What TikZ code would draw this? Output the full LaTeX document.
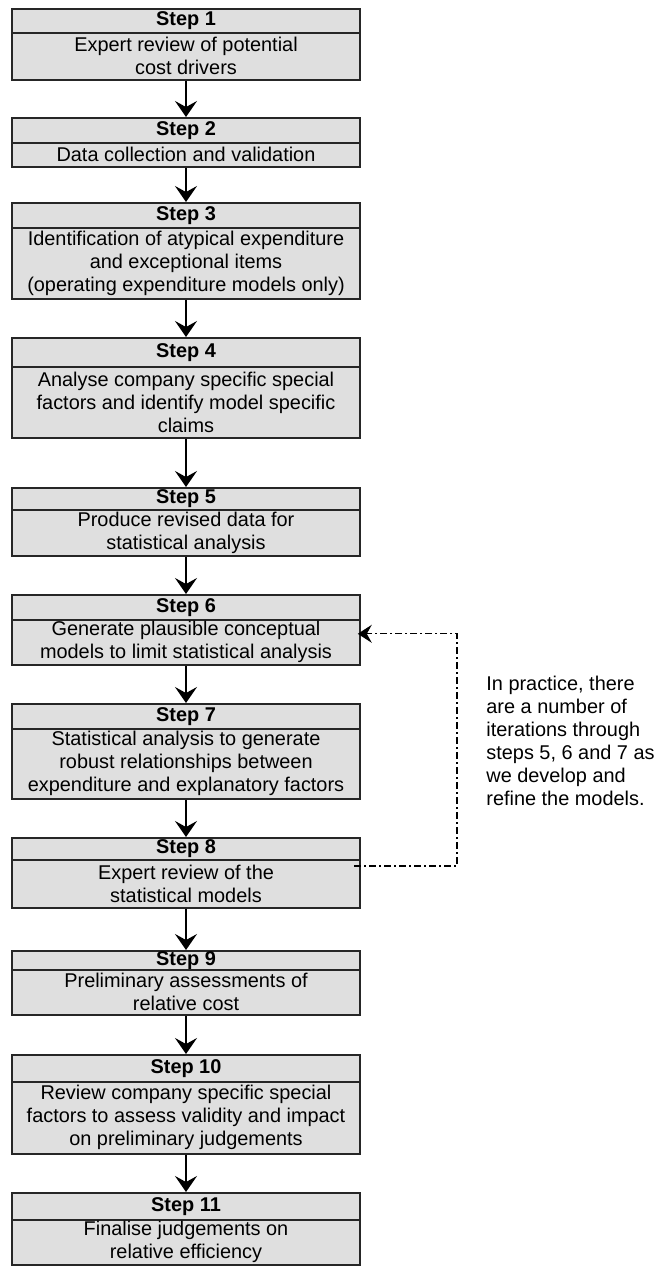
\documentclass[tikz,border=0pt]{standalone}
\usepackage{fontspec}
\setmainfont{Liberation Sans}
\usetikzlibrary{arrows.meta}
\definecolor{boxgray}{HTML}{DFDFDF}
\tikzset{
  box/.style={draw=black!85, fill=boxgray, line width=0.8pt, minimum width=174pt,
    inner sep=0pt, anchor=north, align=center,
    font=\fontsize{9.95}{11.5}\selectfont},
  hdr/.style={box, font=\fontsize{9.95}{11.5}\selectfont\bfseries},
  flow/.style={line width=0.75pt, -{Stealth[length=8pt,width=11pt,inset=3pt]}},
  iterloop/.style={line width=0.6pt, dash pattern=on 3.5pt off 1.5pt on 1pt off 1.5pt,
    -{Stealth[length=7pt,width=9pt,inset=2.5pt]}},
  note/.style={anchor=west, align=left, inner sep=0pt,
    font=\fontsize{9.95}{11.5}\selectfont}
}
\begin{document}
\begin{tikzpicture}[x=0.5pt,y=-0.5pt]
\useasboundingbox (0,0) rectangle (658,1266);
% Step 1
\node[hdr, minimum height=12pt] (h1) at (186,8) {Step 1};
\node[box, minimum height=23.5pt] (b1) at (186,32) {Expert review of potential\\cost drivers};
% Step 2
\node[hdr, minimum height=12.5pt] (h2) at (186,117) {Step 2};
\node[box, minimum height=12pt] (b2) at (186,142) {Data collection and validation};
% Step 3
\node[hdr, minimum height=12.5pt] (h3) at (186,202) {Step 3};
\node[box, minimum height=35.5pt] (b3) at (186,227) {Identification of atypical expenditure\\and exceptional items\\(operating expenditure models only)};
% Step 4
\node[hdr, minimum height=14.5pt] (h4) at (186,337) {Step 4};
\node[box, minimum height=35.5pt] (b4) at (186,366) {Analyse company specific special\\factors and identify model specific\\claims};
% Step 5
\node[hdr, minimum height=11pt] (h5) at (186,487) {Step 5};
\node[box, minimum height=23pt] (b5) at (186,509) {Produce revised data for\\statistical analysis};
% Step 6
\node[hdr, minimum height=12.5pt] (h6) at (186,594) {Step 6};
\node[box, minimum height=22.5pt] (b6) at (186,619) {Generate plausible conceptual\\models to limit statistical analysis};
% Step 7
\node[hdr, minimum height=12.5pt] (h7) at (186,703) {Step 7};
\node[box, minimum height=35pt] (b7) at (186,728) {Statistical analysis to generate\\robust relationships between\\expenditure and explanatory factors};
% Step 8
\node[hdr, minimum height=11pt] (h8) at (186,837) {Step 8};
\node[box, minimum height=24pt] (b8) at (186,859) {Expert review of the\\statistical models};
% Step 9
\node[hdr, minimum height=9.5pt] (h9) at (186,950) {Step 9};
\node[box, minimum height=22.5pt] (b9) at (186,969) {Preliminary assessments of\\relative cost};
% Step 10
\node[hdr, minimum height=13.5pt] (h10) at (186,1054) {Step 10};
\node[box, minimum height=36pt] (b10) at (186,1081) {Review company specific special\\factors to assess validity and impact\\on preliminary judgements};
% Step 11
\node[hdr, minimum height=13.5pt] (h11) at (186,1192) {Step 11};
\node[box, minimum height=22.5pt] (b11) at (186,1219) {Finalise judgements on\\relative efficiency};
% flow arrows
\draw[flow] (b1.south) -- (h2.north);
\draw[flow] (b2.south) -- (h3.north);
\draw[flow] (b3.south) -- (h4.north);
\draw[flow] (b4.south) -- (h5.north);
\draw[flow] (b5.south) -- (h6.north);
\draw[flow] (b6.south) -- (h7.north);
\draw[flow] (b7.south) -- (h8.north);
\draw[flow] (b8.south) -- (h9.north);
\draw[flow] (b9.south) -- (h10.north);
\draw[flow] (b10.south) -- (h11.north);
% iteration loop
\coordinate (ls) at (354,866);
\coordinate (lc) at (457,866);
\coordinate (le) at ([yshift=4.25pt,xshift=-1.5pt]b6.east);
\draw[iterloop] (ls) -- (lc) |- (le);
% note
\node[note] (nt) at (486,741) {In practice, there\\are a number of\\iterations through\\steps 5, 6 and 7 as\\we develop and\\refine the models.};
\end{tikzpicture}
\end{document}
